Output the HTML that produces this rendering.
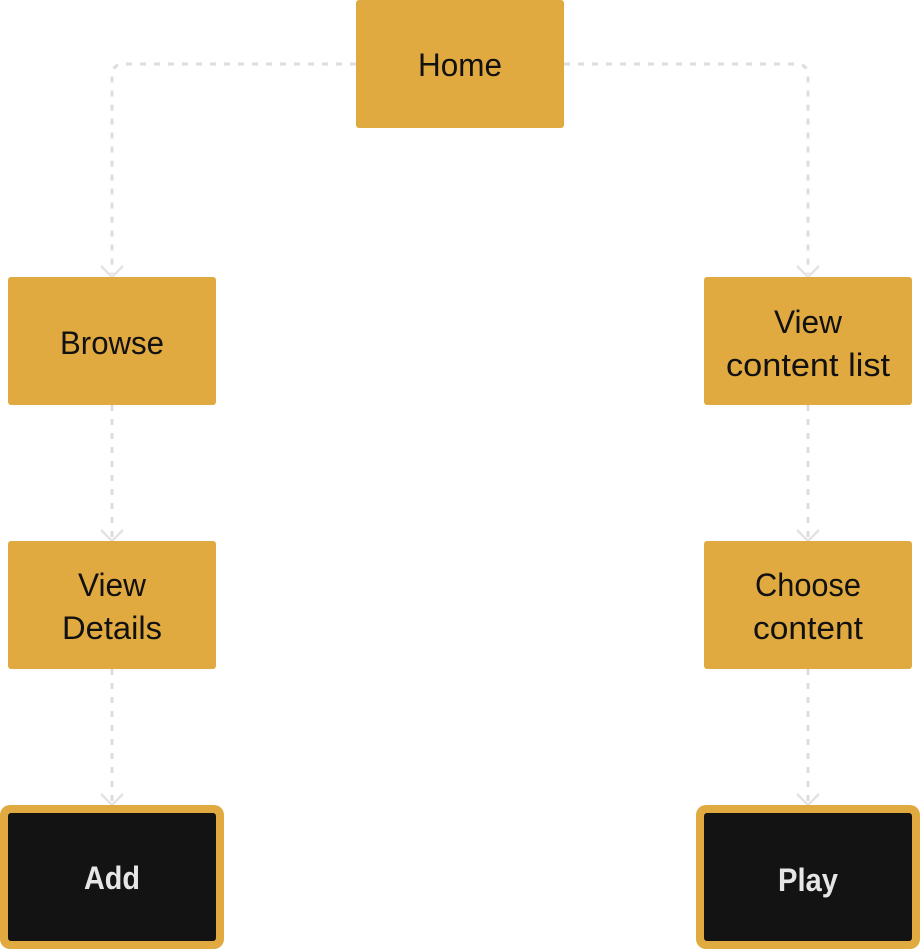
<!DOCTYPE html>
<html><head><meta charset="utf-8"><style>
html,body{margin:0;padding:0;background:#fff;width:920px;height:949px;overflow:hidden}
text{font-family:"Liberation Sans Narrow","Liberation Sans",sans-serif;font-size:32px;text-anchor:middle}
</style></head><body>
<svg width="920" height="949" viewBox="0 0 920 949" xmlns="http://www.w3.org/2000/svg">
<g fill="none" stroke="#dedede" stroke-width="3" stroke-dasharray="6 8">
<path d="M356 64 H124 Q112 64 112 76 V274"/>
<path d="M564 64 H796 Q808 64 808 76 V274"/>
<path d="M112 405 V538"/>
<path d="M808 405 V538"/>
<path d="M112 669 V802"/>
<path d="M808 669 V802"/>
</g>
<g fill="none" stroke="#e3e3e3" stroke-width="2.5">
<path d="M101 266 L112 277 L123 266"/>
<path d="M797 266 L808 277 L819 266"/>
<path d="M101 530 L112 541 L123 530"/>
<path d="M797 530 L808 541 L819 530"/>
<path d="M101 794 L112 805 L123 794"/>
<path d="M797 794 L808 805 L819 794"/>
</g>
<g fill="#e1aa40">
<rect x="356" y="0" width="208" height="128" rx="3"/>
<rect x="8" y="277" width="208" height="128" rx="3"/>
<rect x="704" y="277" width="208" height="128" rx="3"/>
<rect x="8" y="541" width="208" height="128" rx="3"/>
<rect x="704" y="541" width="208" height="128" rx="3"/>
<rect x="0" y="805" width="224" height="144" rx="10"/>
<rect x="696" y="805" width="224" height="144" rx="10"/>
</g>
<rect x="8" y="813" width="208" height="128" rx="3" fill="#131313"/>
<rect x="704" y="813" width="208" height="128" rx="3" fill="#131313"/>
<g fill="#111">
<text x="460" y="76" textLength="84" lengthAdjust="spacingAndGlyphs">Home</text>
<text x="112" y="354" textLength="104" lengthAdjust="spacingAndGlyphs">Browse</text>
<text x="808" y="333" textLength="68" lengthAdjust="spacingAndGlyphs">View</text>
<text x="808" y="376" textLength="164" lengthAdjust="spacingAndGlyphs">content list</text>
<text x="112" y="596" textLength="68" lengthAdjust="spacingAndGlyphs">View</text>
<text x="112" y="639" textLength="100" lengthAdjust="spacingAndGlyphs">Details</text>
<text x="808" y="596" textLength="106" lengthAdjust="spacingAndGlyphs">Choose</text>
<text x="808" y="639" textLength="110" lengthAdjust="spacingAndGlyphs">content</text>
</g>
<g fill="#e6e6e6">
<text x="112" y="889" style="font-weight:bold" textLength="56" lengthAdjust="spacingAndGlyphs">Add</text>
<text x="808" y="891" style="font-weight:bold" textLength="60" lengthAdjust="spacingAndGlyphs">Play</text>
</g>
</svg>
</body></html>
